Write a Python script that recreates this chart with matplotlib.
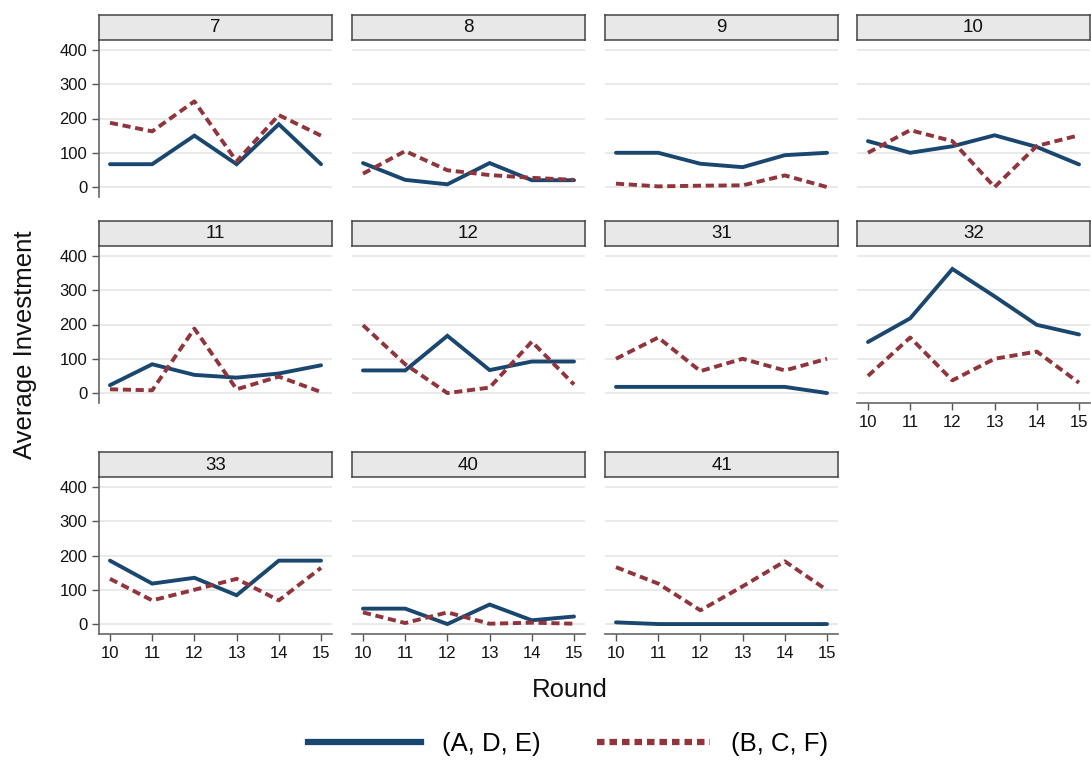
import numpy as np
import matplotlib.pyplot as plt
from matplotlib.lines import Line2D

plt.rcParams['font.family'] = ['Liberation Sans', 'DejaVu Sans']

rounds = [10, 11, 12, 13, 14, 15]
groups = ['7', '8', '9', '10', '11', '12', '31', '32', '33', '40', '41']

# average investment per round, treatment (A, D, E)
ade = [
    [66.7, 66.7, 150, 66.7, 183.3, 66.7],
    [70, 21, 8, 70, 20, 20],
    [100, 100, 68, 58, 93, 100],
    [134, 100, 119, 151, 117, 66],
    [23, 84, 53, 45, 57, 81],
    [66, 66, 167, 67, 92, 92],
    [18, 18, 18, 18, 18, 0],
    [149, 218, 362, 282, 199, 171],
    [185, 118, 135, 84, 185, 185],
    [45, 45, 0, 57, 11, 22],
    [5, 0, 0, 0, 0, 0],
]
# treatment (B, C, F)
bcf = [
    [187.5, 162.5, 250, 75, 210, 150],
    [39, 105, 49, 35, 27, 21],
    [10, 2, 4, 5, 34, 0],
    [100, 166, 134, 0, 120, 151],
    [11, 8, 188, 11, 48, 3],
    [198, 84, 0, 16, 150, 25],
    [100, 162, 64, 100, 66, 100],
    [50, 162, 37, 100, 121, 30],
    [132, 69, 100, 132, 69, 164],
    [34, 3, 34, 1, 4, 1],
    [166, 118, 40, 110, 183, 99],
]
yticks = [0, 100, 200, 300, 400]

blue = '#1a476f'
red = '#90353b'

W, H = 1091, 761
fig = plt.figure(figsize=(W / 100, H / 100), dpi=100)


def box(x0, y0, w, h):
    # pixel box (top-left origin) -> figure fraction
    return [x0 / W, 1 - (y0 + h) / H, w / W, h / H]


col_x = [99, 352, 605, 857]
row_top = [15, 221, 452]
panel_w = 233
head_h = 25
plot_h = 157

for i, g in enumerate(groups):
    r, c = divmod(i, 4)
    x0 = col_x[c]
    y0 = row_top[r]

    ax = fig.add_axes(box(x0, y0 + head_h, panel_w, plot_h))
    ax.set_xlim(9.74, 15.26)
    ax.set_ylim(-29, 429)
    ax.set_yticks(yticks)
    ax.set_xticks(rounds)
    ax.grid(axis='y', color='#e6e6e6', lw=1.2)
    ax.set_axisbelow(True)
    for s in ax.spines.values():
        s.set_visible(False)

    ax.plot(rounds, ade[i], color=blue, lw=2.8, solid_capstyle='round', solid_joinstyle='miter')
    ax.plot(rounds, bcf[i], color=red, lw=2.8, linestyle=(0, (2.1, 1.2)), dash_capstyle='butt')

    left = c == 0
    bottom = (r == 2) or (c == 3 and r == 1)
    ax.tick_params(axis='both', colors='#555555', labelcolor='#111111',
                   labelsize=12, length=5, width=1.0)
    if left:
        ax.spines['left'].set_visible(True)
        ax.spines['left'].set_color('#666666')
        ax.spines['left'].set_linewidth(1.2)
    else:
        ax.tick_params(axis='y', left=False, labelleft=False)
    if bottom:
        ax.spines['bottom'].set_visible(True)
        ax.spines['bottom'].set_color('#666666')
        ax.spines['bottom'].set_linewidth(1.2)
    else:
        ax.tick_params(axis='x', bottom=False, labelbottom=False)

    # grey strip with the group number, drawn on top of the panel edge
    hd = fig.add_axes(box(x0, y0, panel_w, head_h), zorder=5)
    hd.set_facecolor('#e8e8e8')
    hd.set_xticks([])
    hd.set_yticks([])
    for s in hd.spines.values():
        s.set_color('#444444')
        s.set_linewidth(1.1)
    hd.text(0.5, 0.48, g, ha='center', va='center', fontsize=13.5, color='#111111')

fig.text(25 / W, 1 - 345 / H, 'Average Investment', rotation=90, ha='center', va='center',
         fontsize=18.5, color='#111111')
fig.text(570 / W, 1 - 690 / H, 'Round', ha='center', va='center', fontsize=18.5, color='#111111')

handles = [
    Line2D([], [], color=blue, lw=4.5),
    Line2D([], [], color=red, lw=4.5, linestyle=(0, (1.2, 0.8))),
]
fig.legend(handles, ['(A, D, E)', '(B, C, F)'], loc='center', bbox_to_anchor=(568 / W, 1 - 744 / H),
           ncol=2, frameon=False, fontsize=18.5, handlelength=4.4, handletextpad=0.8,
           columnspacing=2.2)

fig.savefig('out.png', dpi=100, facecolor='white')
